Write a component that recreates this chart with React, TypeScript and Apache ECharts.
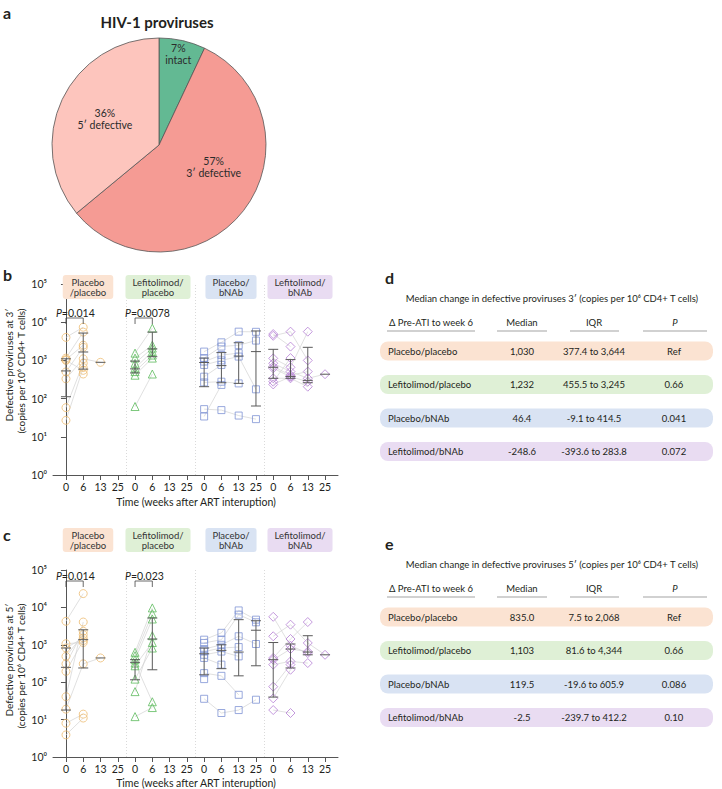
import React, { useEffect, useRef } from "react";
import * as echarts from "echarts";

const FONT = "Lato, 'Open Sans', sans-serif";

// ---------- panel a ----------
const PIE_NAMES = ["intact", "3′ defective", "5′ defective"];
const PIE_VALUES = [7, 57, 36];
const PIE_COLORS = ["#63b993", "#f59b94", "#fdc5bd"];
const PIE_LABEL_SHIFT = [[7, -36], [10, -13], [-3, -2]];

// ---------- panels b, c ----------
const TIMES = ["0", "6", "13", "25"];
const GROUP_LABELS = ["Placebo\n/placebo", "Lefitolimod/\nplacebo", "Placebo/\nbNAb", "Lefitolimod/\nbNAb"];
const GROUP_COLORS = ["#eebd73", "#5dba5d", "#8094d4", "#b57fd4"];
const GROUP_BOX_COLORS = ["#fbe3d2", "#dff0d6", "#d9e3f3", "#e9dcf2"];
const GROUP_SYMBOLS = ["circle", "triangle", "rect", "diamond"];
const GROUP_SYMBOL_SIZES = [8, 8, 7, 9];

// values per participant at weeks 0, 6, 13, 25 (copies per 10^6 CD4+ T cells)
const B_PLACEBO_PLACEBO = [
  [4000, 7400, null, null],
  [1150, 5500, null, null],
  [1050, 2500, null, null],
  [500, 2200, null, null],
  [330, 1100, 890, null],
  [58, 850, null, null],
  [27, 650, null, null],
  [1000, 550, null, null],
  [null, 440, null, null],
];
const B_LEFITOLIMOD_PLACEBO = [
  [1550, 7000, null, null],
  [1150, 2500, null, null],
  [840, 2100, null, null],
  [630, 1700, null, null],
  [510, 1380, null, null],
  [410, 1150, null, null],
  [62, 440, null, null],
];
const B_PLACEBO_BNAB = [
  [1700, 2970, 5650, 5600],
  [1150, 2300, 2500, 3300],
  [930, 1380, 1550, null],
  [760, 1000, 1260, 175],
  [375, 760, null, null],
  [265, 277, 250, null],
  [34, 228, null, null],
  [53, 50, 36, 29],
];
const B_LEFITOLIMOD_BNAB = [
  [4900, 2300, null, null],
  [4400, 5650, 1000, null],
  [1130, 660, 5650, null],
  [840, 510, 340, 435],
  [690, 410, 510, null],
  [620, 375, 277, null],
  [340, 340, 205, null],
  [277, 1150, null, null],
  [235, 375, null, null],
];
// [median, lower IQR, upper IQR] per group per week
const B_STATS = [
  [[530, 112, 1100], [1660, 590, 5200], [890, null, null], null],
  [[600, 470, 960], [2000, 1250, 5500], null, null],
  [[880, 205, 1150], [730, 260, 1600], [1300, 250, 2900], [1700, 64, 5900]],
  [[660, 340, 1950], [380, 340, 1050], [300, 260, 2200], [435, null, null]],
];
const B_P_VALUES = ["0.014", "0.0078"];

const C_PLACEBO_PLACEBO = [
  [4250, 23400, null, null],
  [1070, 1150, null, null],
  [820, 1520, null, null],
  [490, 1870, null, null],
  [310, 2300, null, null],
  [195, 1300, null, null],
  [41, 4060, null, null],
  [19, 310, 445, null],
  [8, 14, null, null],
  [3.9, 11, null, null],
];
const C_LEFITOLIMOD_PLACEBO = [
  [630, 9700, null, null],
  [510, 6800, null, null],
  [400, 4900, null, null],
  [325, 30, null, null],
  [275, 1150, null, null],
  [121, 820, null, null],
  [56, 1750, null, null],
  [12, 21, null, null],
];
const C_PLACEBO_BNAB = [
  [1370, 2090, 8300, 4700],
  [1120, 1370, 6400, 4000],
  [770, 1000, 1690, 1050],
  [660, 820, 870, null],
  [540, 660, 490, null],
  [445, 295, null, null],
  [175, 148, 46, null],
  [121, null, null, null],
  [36, 15, 18, 34],
];
const C_LEFITOLIMOD_BNAB = [
  [5600, 945, 600, null],
  [1690, 3450, 1120, 540],
  [445, 1430, 4060, null],
  [400, 770, 660, null],
  [295, 360, 325, null],
  [76, 295, null, null],
  [37, 215, null, null],
  [18, 15, null, null],
];
const C_STATS = [
  [[250, 18, 820], [1370, 240, 2520], [445, null, null], null],
  [[340, 116, 400], [1430, 215, 5200], null, null],
  [[575, 158, 820], [710, 230, 1000], [640, 148, 4700], [2450, 275, 4400]],
  [[400, 40, 1150], [770, 240, 1050], [640, 540, 1750], [540, null, null]],
];
const C_P_VALUES = ["0.014", "0.023"];

// ---------- panels d, e ----------
const TABLE_GROUPS = ["Placebo/placebo", "Lefitolimod/placebo", "Placebo/bNAb", "Lefitolimod/bNAb"];
const TABLE_HEADERS = ["Δ Pre-ATI to week 6", "Median", "IQR", "P"];
const D_MEDIANS = ["1,030", "1,232", "46.4", "-248.6"];
const D_IQR = ["377.4 to 3,644", "455.5 to 3,245", "-9.1 to 414.5", "-393.6 to 283.8"];
const D_P = ["Ref", "0.66", "0.041", "0.072"];
const E_MEDIANS = ["835.0", "1,103", "119.5", "-2.5"];
const E_IQR = ["7.5 to 2,068", "81.6 to 4,344", "-19.6 to 605.9", "-239.7 to 412.2"];
const E_P = ["Ref", "0.66", "0.086", "0.10"];

// ---------- layout ----------
const X_MIN = -0.75;
const X_MAX = 15.75;
const GRID_LEFT = 53;
const GRID_WIDTH = 285;
const GRID_B = { top: 284, height: 191 };
const GRID_C = { top: 570, height: 187 };
const SUP = ["⁰", "¹", "²", "³", "⁴", "⁵", "⁶"];

const px = (v: number) => GRID_LEFT + ((v - X_MIN) / (X_MAX - X_MIN)) * GRID_WIDTH;

function txt(text: string, x: number, y: number, o: any = {}) {
  const style: any = {
    text,
    fill: o.color || "#231f20",
    fontSize: o.size || 10,
    fontFamily: FONT,
    fontWeight: o.weight || "normal",
    fontStyle: o.fstyle || "normal",
    textAlign: o.align || "left",
    textVerticalAlign: "middle",
  };
  if (o.lh) style.lineHeight = o.lh;
  if (o.rich) style.rich = o.rich;
  if (o.bg) {
    style.backgroundColor = o.bg;
    style.padding = o.padding || [2, 4];
    style.borderRadius = 3;
  }
  return { type: "text", x, y, rotation: o.rotation || 0, silent: true, z: 10, style };
}

function line(x1: number, y1: number, x2: number, y2: number, color = "#555", w = 0.8) {
  return { type: "line", silent: true, z: 10, shape: { x1, y1, x2, y2 }, style: { stroke: color, lineWidth: w } };
}

function renderErrorBar(params: any, api: any) {
  const x = api.value(0);
  const med = api.value(1);
  const lo = api.value(2);
  const hi = api.value(3);
  const pm = api.coord([x, med]);
  const pl = api.coord([x, lo]);
  const ph = api.coord([x, hi]);
  const hw = 5;
  const st = { stroke: "#5a5a5a", lineWidth: 1 };
  const children: any[] = [
    { type: "line", shape: { x1: pm[0] - hw, y1: pm[1], x2: pm[0] + hw, y2: pm[1] }, style: st },
  ];
  if (lo !== med || hi !== med) {
    children.push({ type: "line", shape: { x1: pl[0], y1: pl[1], x2: ph[0], y2: ph[1] }, style: st });
    children.push({ type: "line", shape: { x1: pl[0] - hw, y1: pl[1], x2: pl[0] + hw, y2: pl[1] }, style: st });
    children.push({ type: "line", shape: { x1: ph[0] - hw, y1: ph[1], x2: ph[0] + hw, y2: ph[1] }, style: st });
  }
  return { type: "group", children };
}

function panelSeries(idx: number, groups: (number | null)[][][], stats: any[][]) {
  const series: any[] = [];
  groups.forEach((parts, g) => {
    parts.forEach((vals) => {
      const pts: number[][] = [];
      vals.forEach((v, t) => {
        if (v != null) pts.push([g * TIMES.length + t, v]);
      });
      if (pts.length > 1) {
        series.push({
          type: "line",
          xAxisIndex: idx,
          yAxisIndex: idx,
          data: pts,
          symbol: "none",
          silent: true,
          z: 1,
          lineStyle: { color: "#d2d2d2", width: 0.7 },
          emphasis: { disabled: true },
        });
      }
    });
    const pts: number[][] = [];
    parts.forEach((vals) =>
      vals.forEach((v, t) => {
        if (v != null) pts.push([g * TIMES.length + t, v]);
      })
    );
    const s: any = {
      type: "scatter",
      xAxisIndex: idx,
      yAxisIndex: idx,
      data: pts,
      symbol: GROUP_SYMBOLS[g],
      symbolSize: GROUP_SYMBOL_SIZES[g],
      silent: true,
      z: 2,
      itemStyle: { color: "rgba(255,255,255,0)", borderColor: GROUP_COLORS[g], borderWidth: 1 },
    };
    if (g === 0) {
      s.markLine = {
        silent: true,
        symbol: "none",
        label: { show: false },
        lineStyle: { type: [1, 2], color: "#d0d0d0", width: 0.8 },
        data: [1, 2, 3].map((k) => ({ xAxis: k * TIMES.length - 0.5 })),
      };
    }
    series.push(s);
  });
  const statData: number[][] = [];
  stats.forEach((row, g) =>
    row.forEach((st: any, t: number) => {
      if (st) statData.push([g * TIMES.length + t, st[0], st[1] ?? st[0], st[2] ?? st[0]]);
    })
  );
  series.push({
    type: "custom",
    xAxisIndex: idx,
    yAxisIndex: idx,
    data: statData,
    renderItem: renderErrorBar,
    encode: { x: 0, y: [1, 2, 3] },
    silent: true,
    z: 3,
  });
  return series;
}

function xAxis(idx: number) {
  const ticks = Array.from({ length: 16 }, (_, i) => i);
  return {
    type: "value",
    gridIndex: idx,
    min: X_MIN,
    max: X_MAX,
    axisLine: { show: true, lineStyle: { color: "#555", width: 1 } },
    axisTick: { show: true, customValues: ticks, length: 5, lineStyle: { color: "#555" } },
    axisLabel: {
      customValues: ticks,
      formatter: (v: number) => TIMES[Math.round(v) % TIMES.length],
      fontSize: 10.5,
      color: "#231f20",
      fontFamily: FONT,
      margin: 6,
    },
    splitLine: { show: false },
  };
}

function yAxis(idx: number) {
  return {
    type: "log",
    logBase: 10,
    gridIndex: idx,
    min: 1,
    max: 100000,
    axisLine: { show: true, lineStyle: { color: "#555", width: 1 } },
    axisTick: { show: true, length: 5, lineStyle: { color: "#555" } },
    axisLabel: {
      formatter: (v: number) => "10" + SUP[Math.round(Math.log10(v))],
      fontSize: 10.5,
      color: "#231f20",
      fontFamily: FONT,
      margin: 6,
    },
    splitLine: { show: false },
  };
}

function panelGraphics(top: number, boxY: number, pY: number, yTitle: string, xTitleY: number, pValues: string[]) {
  const els: any[] = [];
  const centers = [88, 158, 231, 300];
  GROUP_LABELS.forEach((lab, g) => {
    els.push(txt(lab, centers[g], boxY, { align: "center", size: 9.5, lh: 10, bg: GROUP_BOX_COLORS[g], color: "#333", padding: [2, 7] }));
  });
  pValues.forEach((p, g) => {
    const x0 = px(g * TIMES.length);
    const x1 = px(g * TIMES.length + 1);
    els.push(txt("{i|P}=" + p, x0 - 10, pY, { size: 10.5, rich: { i: { fontStyle: "italic", fontSize: 10.5, fontFamily: FONT } } }));
    els.push(line(x0, pY + 5, x1, pY + 5, "#444", 0.8));
    els.push(line(x0, pY + 5, x0, pY + 11, "#444", 0.8));
    els.push(line(x1, pY + 5, x1, pY + 11, "#444", 0.8));
  });
  const midY = top;
  els.push(txt("Defective proviruses at " + yTitle, 9, midY, { align: "center", size: 10, rotation: Math.PI / 2 }));
  els.push(txt("(copies per 10⁶ CD4+ T cells)", 21, midY + 6, { align: "center", size: 10, rotation: Math.PI / 2 }));
  els.push(txt("Time (weeks after ART interuption)", 196, xTitleY, { align: "center", size: 10.5 }));
  return els;
}

function tableGraphics(top: number, prime: string, medians: string[], iqr: string[], pv: string[]) {
  const els: any[] = [];
  els.push(txt("Median change in defective proviruses " + prime + " (copies per 10⁶ CD4+ T cells)", 552, top, { align: "center", size: 9.5 }));
  const hy = top + 24;
  els.push(txt(TABLE_HEADERS[0], 389, hy, { size: 9.5 }));
  els.push(txt(TABLE_HEADERS[1], 522, hy, { size: 9.5, align: "center" }));
  els.push(txt(TABLE_HEADERS[2], 594, hy, { size: 9.5, align: "center" }));
  els.push(txt(TABLE_HEADERS[3], 675, hy, { size: 9.5, align: "center", fstyle: "italic" }));
  const uy = top + 33;
  [[387, 475], [497, 547], [570, 619], [643, 707]].forEach(([a, b]) => els.push(line(a, uy, b, uy, "#666", 0.6)));
  TABLE_GROUPS.forEach((name, i) => {
    const cy = top + 53 + i * 33.5;
    els.push({
      type: "rect",
      silent: true,
      z: 5,
      shape: { x: 380, y: cy - 9.5, width: 333, height: 19, r: 8 },
      style: { fill: GROUP_BOX_COLORS[i] },
    });
    els.push(txt(name, 388, cy, { size: 9.5 }));
    els.push(txt(medians[i], 522, cy, { size: 9.5, align: "center" }));
    els.push(txt(iqr[i], 594, cy, { size: 9.5, align: "center" }));
    els.push(txt(pv[i], 674, cy, { size: 9.5, align: "center" }));
  });
  return els;
}

export default function App() {
  const ref = useRef<HTMLDivElement>(null);
  useEffect(() => {
    if (!ref.current) return;
    const chart = echarts.init(ref.current, null, { renderer: "svg" });
    const graphics: any[] = [
      txt("a", 3, 12, { size: 16, weight: "bold" }),
      txt("b", 3, 274, { size: 16, weight: "bold" }),
      txt("c", 3, 534, { size: 16, weight: "bold" }),
      txt("d", 385, 277, { size: 16, weight: "bold" }),
      txt("e", 385, 543, { size: 16, weight: "bold" }),
      txt("HIV-1 proviruses", 157, 22, { size: 15, weight: "bold", align: "center" }),
      ...panelGraphics(365, 287, 313, "3′", 502, B_P_VALUES),
      ...panelGraphics(660, 540, 576, "5′", 783, C_P_VALUES),
      ...tableGraphics(298, "3′", D_MEDIANS, D_IQR, D_P),
      ...tableGraphics(564, "5′", E_MEDIANS, E_IQR, E_P),
    ];
    const option: any = {
      animation: false,
      textStyle: { fontFamily: FONT },
      grid: [
        { left: GRID_LEFT, width: GRID_WIDTH, top: GRID_B.top, height: GRID_B.height },
        { left: GRID_LEFT, width: GRID_WIDTH, top: GRID_C.top, height: GRID_C.height },
      ],
      xAxis: [xAxis(0), xAxis(1)],
      yAxis: [yAxis(0), yAxis(1)],
      graphic: { elements: graphics },
      series: [
        {
          type: "pie",
          center: [159, 145],
          radius: 107,
          startAngle: 90,
          clockwise: true,
          silent: true,
          data: PIE_VALUES.map((v, i) => ({
            value: v,
            name: v + "%\n" + PIE_NAMES[i],
            itemStyle: { color: PIE_COLORS[i] },
          })),
          itemStyle: { borderColor: "#555", borderWidth: 0.8 },
          label: {
            show: true,
            position: "inside",
            formatter: "{b}",
            fontSize: 10.5,
            lineHeight: 12,
            color: "#2b2b2b",
            fontFamily: FONT,
          },
          labelLayout: (p: any) => ({ dx: PIE_LABEL_SHIFT[p.dataIndex][0], dy: PIE_LABEL_SHIFT[p.dataIndex][1] }),
          emphasis: { disabled: true },
        },
        ...panelSeries(0, [B_PLACEBO_PLACEBO, B_LEFITOLIMOD_PLACEBO, B_PLACEBO_BNAB, B_LEFITOLIMOD_BNAB], B_STATS),
        ...panelSeries(1, [C_PLACEBO_PLACEBO, C_LEFITOLIMOD_PLACEBO, C_PLACEBO_BNAB, C_LEFITOLIMOD_BNAB], C_STATS),
      ],
    };
    chart.setOption(option);
    return () => chart.dispose();
  }, []);
  return <div ref={ref} style={{ position: "absolute", left: 0, top: 0, width: 722, height: 789, background: "#fff" }} />;
}
